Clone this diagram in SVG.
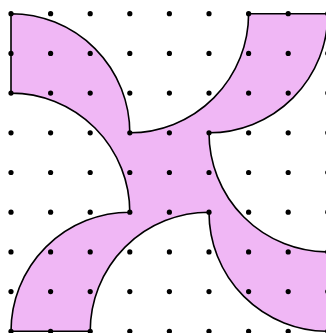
<svg xmlns="http://www.w3.org/2000/svg" xmlns:xlink="http://www.w3.org/1999/xlink" width="326" height="333" viewBox="0 0 326 333">
<style>
.shape{fill:#f0b7f5;stroke:#000;stroke-width:1.6;stroke-linejoin:miter}
.dot{fill:#000}
</style>
<defs><circle id="d" r="2.6" class="dot"/></defs>
<rect width="326" height="333" fill="#fff"/>
<path class="shape" d="M 11 13.7 A 118.8 119.1 0 0 1 129.8 132.8 A 118.8 119.1 0 0 0 248.6 13.7 L 327.8 13.7 A 118.8 119.1 0 0 1 209 132.8 A 118.8 119.1 0 0 0 327.8 251.9 L 327.8 331.3 A 118.8 119.1 0 0 1 209 212.2 A 118.8 119.1 0 0 0 90.2 331.3 L 11 331.3 A 118.8 119.1 0 0 1 129.8 212.2 A 118.8 119.1 0 0 0 11 93.1 Z"/>
<g id="dots">
<g transform="translate(0,13.7)"><use href="#d" x="11"/><use href="#d" x="50.6"/><use href="#d" x="90.2"/><use href="#d" x="129.8"/><use href="#d" x="169.4"/><use href="#d" x="209"/><use href="#d" x="248.6"/><use href="#d" x="288.2"/><use href="#d" x="327.8"/></g>
<g transform="translate(0,53.4)"><use href="#d" x="11"/><use href="#d" x="50.6"/><use href="#d" x="90.2"/><use href="#d" x="129.8"/><use href="#d" x="169.4"/><use href="#d" x="209"/><use href="#d" x="248.6"/><use href="#d" x="288.2"/><use href="#d" x="327.8"/></g>
<g transform="translate(0,93.1)"><use href="#d" x="11"/><use href="#d" x="50.6"/><use href="#d" x="90.2"/><use href="#d" x="129.8"/><use href="#d" x="169.4"/><use href="#d" x="209"/><use href="#d" x="248.6"/><use href="#d" x="288.2"/><use href="#d" x="327.8"/></g>
<g transform="translate(0,132.8)"><use href="#d" x="11"/><use href="#d" x="50.6"/><use href="#d" x="90.2"/><use href="#d" x="129.8"/><use href="#d" x="169.4"/><use href="#d" x="209"/><use href="#d" x="248.6"/><use href="#d" x="288.2"/><use href="#d" x="327.8"/></g>
<g transform="translate(0,172.5)"><use href="#d" x="11"/><use href="#d" x="50.6"/><use href="#d" x="90.2"/><use href="#d" x="129.8"/><use href="#d" x="169.4"/><use href="#d" x="209"/><use href="#d" x="248.6"/><use href="#d" x="288.2"/><use href="#d" x="327.8"/></g>
<g transform="translate(0,212.2)"><use href="#d" x="11"/><use href="#d" x="50.6"/><use href="#d" x="90.2"/><use href="#d" x="129.8"/><use href="#d" x="169.4"/><use href="#d" x="209"/><use href="#d" x="248.6"/><use href="#d" x="288.2"/><use href="#d" x="327.8"/></g>
<g transform="translate(0,251.9)"><use href="#d" x="11"/><use href="#d" x="50.6"/><use href="#d" x="90.2"/><use href="#d" x="129.8"/><use href="#d" x="169.4"/><use href="#d" x="209"/><use href="#d" x="248.6"/><use href="#d" x="288.2"/><use href="#d" x="327.8"/></g>
<g transform="translate(0,291.6)"><use href="#d" x="11"/><use href="#d" x="50.6"/><use href="#d" x="90.2"/><use href="#d" x="129.8"/><use href="#d" x="169.4"/><use href="#d" x="209"/><use href="#d" x="248.6"/><use href="#d" x="288.2"/><use href="#d" x="327.8"/></g>
<g transform="translate(0,331.3)"><use href="#d" x="11"/><use href="#d" x="50.6"/><use href="#d" x="90.2"/><use href="#d" x="129.8"/><use href="#d" x="169.4"/><use href="#d" x="209"/><use href="#d" x="248.6"/><use href="#d" x="288.2"/><use href="#d" x="327.8"/></g>
</g>
</svg>
